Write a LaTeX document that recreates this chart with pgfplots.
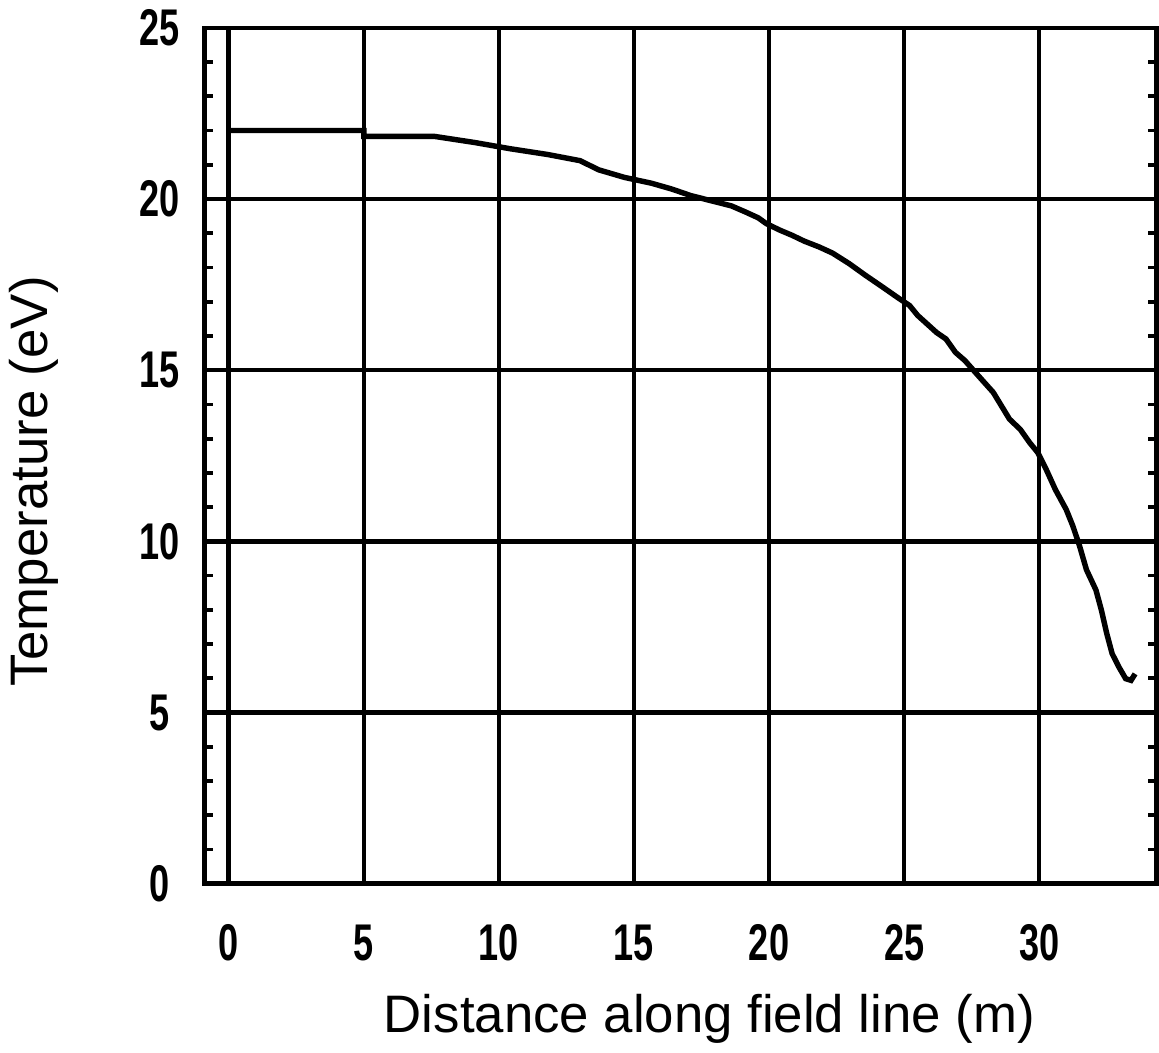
\documentclass[border=0pt]{standalone}
\usepackage{pgfplots}
\pgfplotsset{compat=1.18}
\usepackage{fontspec}
\setmainfont{Liberation Sans}

\begin{document}
\begin{tikzpicture}
\begin{axis}[
    width=332pt, height=298.5pt,
    scale only axis,
    xmin=-0.89, xmax=34.35,
    ymin=0, ymax=25,
    xtick={0,5,...,30},
    ytick={0,5,...,25},
    minor ytick={1,2,...,24},
    grid=major,
    major grid style={black, line width=1.6pt},
    axis line style={line width=1.6pt},
    tick style={black, line width=1.3pt},
    major tick length=4pt,
    minor tick length=3pt,
    tick align=inside,
    /pgf/number format/assume math mode=true,
    xticklabel style={font=\fontsize{18}{20}\selectfont\bfseries, xscale=0.7, transform shape, anchor=center, yshift=-20.7pt},
    yticklabel style={font=\fontsize{18}{20}\selectfont\bfseries, xscale=0.7, transform shape, anchor=center, xshift=-22.6pt},
    xlabel={Distance along field line (m)},
    ylabel={Temperature (eV)},
    label style={font=\fontsize{18.4}{21}\selectfont},
    xlabel style={at={(axis description cs:0.5,0)}, anchor=center, yshift=-47pt, xshift=10pt},
    ylabel style={at={(axis description cs:0,0.5)}, anchor=center, yshift=59.5pt, xshift=-9pt},
]
\addplot[black, line width=1.9pt] coordinates {
(0,22.0) (5,22.0) (5,21.83) (7.6,21.83) (9.1,21.65) (10.4,21.47) (11.8,21.3)
(13.0,21.12) (13.7,20.85) (14.65,20.63) (15.65,20.46) (16.4,20.29) (17.1,20.1)
(17.9,19.94) (18.6,19.8) (19.1,19.63) (19.6,19.45) (19.9,19.28) (20.4,19.09)
(20.85,18.94) (21.3,18.77) (21.85,18.6) (22.35,18.42) (22.97,18.11) (23.57,17.77)
(24.2,17.43) (24.8,17.1) (25.2,16.89) (25.5,16.6) (26.2,16.1) (26.55,15.91)
(26.9,15.52) (27.25,15.28) (27.8,14.79) (28.3,14.35) (28.9,13.57) (29.3,13.27)
(29.65,12.88) (29.95,12.59) (30.26,12.1) (30.6,11.51) (31.0,10.93) (31.25,10.44)
(31.5,9.85) (31.75,9.17) (32.1,8.58) (32.3,8.0) (32.5,7.31) (32.7,6.72)
(32.95,6.33) (33.2,5.99) (33.4,5.94) (33.55,6.13)
};
\end{axis}
\end{tikzpicture}
\end{document}
